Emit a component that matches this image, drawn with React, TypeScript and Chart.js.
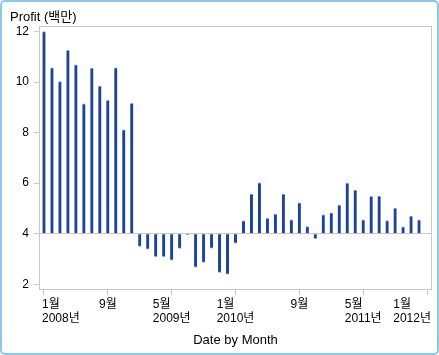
import React, { useEffect, useRef } from 'react';
import { Chart, registerables } from 'chart.js';

Chart.register(...registerables);

const months: string[] = [
  '2008-01', '2008-02', '2008-03', '2008-04', '2008-05', '2008-06', '2008-07', '2008-08', '2008-09', '2008-10', '2008-11', '2008-12',
  '2009-01', '2009-02', '2009-03', '2009-04', '2009-05', '2009-06', '2009-07', '2009-08', '2009-09', '2009-10', '2009-11', '2009-12',
  '2010-01', '2010-02', '2010-03', '2010-04', '2010-05', '2010-06', '2010-07', '2010-08', '2010-09', '2010-10', '2010-11', '2010-12',
  '2011-01', '2011-02', '2011-03', '2011-04', '2011-05', '2011-06', '2011-07', '2011-08', '2011-09', '2011-10', '2011-11', '2011-12',
  '2012-01',
];

const profit: number[] = [
  12.0, 10.56, 10.02, 11.26, 10.68, 9.14, 10.55, 9.84, 9.28, 10.56, 8.11, 9.16,
  3.5, 3.39, 3.09, 3.09, 2.95, 3.42, 3.97, 2.67, 2.86, 3.43, 2.47, 2.4,
  3.62, 4.51, 5.57, 6.01, 4.61, 4.78, 5.57, 4.55, 5.22, 4.28, 3.8, 4.75,
  4.82, 5.13, 6.0, 5.73, 4.55, 5.48, 5.49, 4.52, 5.01, 4.27, 4.7, 4.55,
];

const baseValue = 4;
const yTicks: number[] = [2, 4, 6, 8, 10, 12];
const xTickIndices: number[] = [0, 8, 16, 24, 32, 40, 48];
const yTitle = 'Profit (백만)';
const xTitle = 'Date by Month';

const FONT = '"Liberation Sans", Arial, "Noto Sans CJK KR", sans-serif';
const GRID = '#c8c8c8';

export default function App() {
  const ref = useRef<HTMLCanvasElement | null>(null);

  useEffect(() => {
    document.body.style.margin = '0';
    const canvas = ref.current;
    if (!canvas) return;

    const overlay = {
      id: 'overlay',
      afterDraw(chart: any) {
        const { ctx, chartArea } = chart;
        const xs = chart.scales.x;
        ctx.save();
        // plot frame
        ctx.strokeStyle = GRID;
        ctx.lineWidth = 1;
        ctx.strokeRect(chartArea.left - 0.5, chartArea.top + 0.5, chartArea.right - chartArea.left + 1, chartArea.bottom - chartArea.top);
        // outer frame
        ctx.strokeStyle = '#8cc8ea';
        ctx.lineWidth = 2;
        ctx.beginPath();
        (ctx as any).roundRect(1, 1, 437, 353, 4);
        ctx.stroke();
        // y title
        ctx.fillStyle = '#000';
        ctx.font = `13px ${FONT}`;
        ctx.textAlign = 'left';
        ctx.textBaseline = 'middle';
        ctx.fillText(yTitle, 10, 17);
        // x tick labels
        ctx.font = `12px ${FONT}`;
        let prevYear = '';
        xTickIndices.forEach((idx) => {
          const [yr, mo] = months[idx].split('-');
          const mLabel = `${parseInt(mo, 10)}월`;
          const yLabel = yr !== prevYear ? `${yr}년` : '';
          prevYear = yr;
          const x = xs.getPixelForValue(idx);
          const w = Math.max(ctx.measureText(mLabel).width, yLabel ? ctx.measureText(yLabel).width : 0);
          let left = x - w / 2;
          left = Math.max(left, chartArea.left + 2);
          left = Math.min(left, chartArea.right - w);
          ctx.fillText(mLabel, left, 305);
          if (yLabel) ctx.fillText(yLabel, left, 318.5);
        });
        // x title
        ctx.font = `13px ${FONT}`;
        ctx.textAlign = 'center';
        ctx.fillText(xTitle, (chartArea.left + chartArea.right) / 2, 340);
        ctx.restore();
      },
    };

    const chart = new Chart(canvas, {
      type: 'bar',
      data: {
        labels: months,
        datasets: [
          {
            data: profit,
            base: baseValue,
            backgroundColor: '#1e4595',
            borderColor: '#7f9fd8',
            borderWidth: { top: 1, bottom: 1, left: 0, right: 0 },
            borderSkipped: 'start',
            barThickness: 3,
          } as any,
        ],
      },
      options: {
        animation: false,
        responsive: false,
        devicePixelRatio: 1,
        layout: { padding: { top: 26, right: 8, bottom: 0, left: 0 } },
        plugins: { legend: { display: false }, tooltip: { enabled: false } },
        scales: {
          x: {
            type: 'category',
            offset: true,
            afterFit: (s: any) => {
              s.height = 66;
            },
            grid: {
              offset: false,
              drawOnChartArea: false,
              tickLength: 6,
              tickColor: (c: any) => (xTickIndices.includes(c.index) ? GRID : 'transparent'),
            },
            border: { display: false },
            ticks: { display: false },
          },
          y: {
            type: 'linear',
            min: 1.81,
            max: 12.22,
            afterBuildTicks: (s: any) => {
              s.ticks = yTicks.map((v) => ({ value: v }));
            },
            afterFit: (s: any) => {
              s.width = 40;
            },
            grid: {
              drawOnChartArea: true,
              color: (c: any) => (c.tick && c.tick.value === baseValue ? GRID : 'transparent'),
              tickColor: GRID,
              tickLength: 6,
            },
            border: { display: false },
            ticks: {
              font: { family: FONT, size: 12 },
              color: '#000',
              padding: 5,
            },
          },
        },
      },
      plugins: [overlay],
    });

    return () => chart.destroy();
  }, []);

  return <canvas ref={ref} width={439} height={355} style={{ display: 'block' }} />;
}
